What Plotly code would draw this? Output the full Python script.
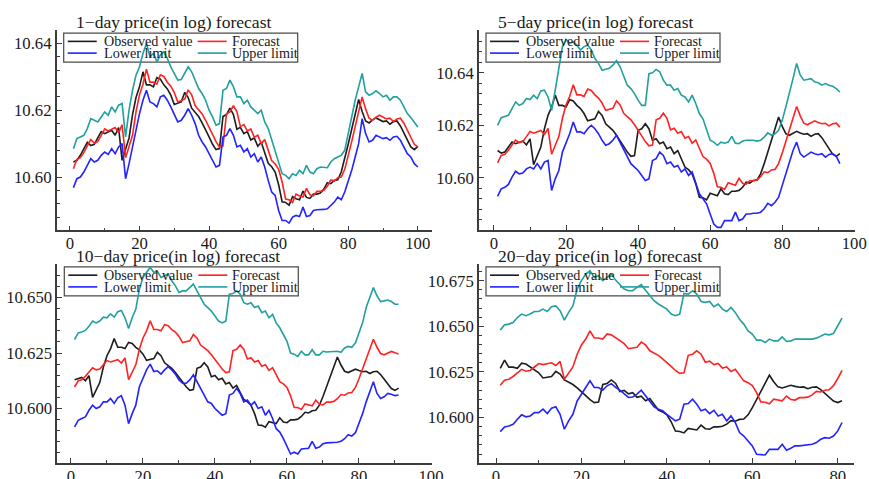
import plotly.graph_objects as go

# reference picture size (all positions below are given in these pixels)
REF_W, REF_H = 869, 479
# the photographed page comes out slightly reduced; size the figure in CSS px to compensate
SCALE = 0.986
W, H = round(REF_W / SCALE), round(REF_H / SCALE)

# ---------------- data ----------------
# observed price (in log), t = 1..100 (shared by all horizons)
observed = [
    10.6045, 10.6050, 10.6065, 10.6085, 10.6104, 10.6094, 10.6098, 10.6117, 10.6136, 10.6130,
    10.6136, 10.6140, 10.6125, 10.6148, 10.6050, 10.6085, 10.6117, 10.6187, 10.6238, 10.6270,
    10.6315, 10.6276, 10.6276, 10.6270, 10.6298, 10.6293, 10.6276, 10.6264, 10.6245, 10.6217,
    10.6222, 10.6225, 10.6253, 10.6238, 10.6206, 10.6194, 10.6181, 10.6162, 10.6143, 10.6120,
    10.6098, 10.6082, 10.6085, 10.6181, 10.6187, 10.6206, 10.6187, 10.6143, 10.6149, 10.6130,
    10.6136, 10.6111, 10.6117, 10.6092, 10.6104, 10.6073, 10.6041, 10.6031, 10.6015, 10.5977,
    10.5926, 10.5924, 10.5916, 10.5941, 10.5935, 10.5932, 10.5958, 10.5939, 10.5936, 10.5949,
    10.5949, 10.5952, 10.5964, 10.5983, 10.5980, 10.5990, 10.5992, 10.6015, 10.6054, 10.6098,
    10.6143, 10.6187, 10.6232, 10.6196, 10.6168, 10.6162, 10.6171, 10.6177, 10.6171, 10.6166,
    10.6168, 10.6158, 10.6166, 10.6168, 10.6153, 10.6132, 10.6110, 10.6090, 10.6082, 10.6092,
]

# 1-day horizon (100 points)
forecast_1d = [
    10.6025, 10.6053, 10.6058, 10.6073, 10.6093, 10.6112, 10.6102, 10.6106, 10.6125, 10.6144,
    10.6138, 10.6144, 10.6148, 10.6133, 10.6156, 10.6058, 10.6093, 10.6125, 10.6195, 10.6246,
    10.6278, 10.6323, 10.6284, 10.6284, 10.6278, 10.6306, 10.6301, 10.6284, 10.6272, 10.6253,
    10.6225, 10.6230, 10.6233, 10.6261, 10.6246, 10.6214, 10.6202, 10.6189, 10.6170, 10.6151,
    10.6128, 10.6106, 10.6090, 10.6093, 10.6189, 10.6195, 10.6214, 10.6195, 10.6151, 10.6157,
    10.6138, 10.6144, 10.6119, 10.6125, 10.6100, 10.6112, 10.6081, 10.6049, 10.6039, 10.6023,
    10.5985, 10.5934, 10.5932, 10.5924, 10.5949, 10.5943, 10.5940, 10.5966, 10.5947, 10.5944,
    10.5957, 10.5957, 10.5960, 10.5972, 10.5991, 10.5988, 10.5998, 10.6000, 10.6023, 10.6062,
    10.6106, 10.6151, 10.6195, 10.6240, 10.6204, 10.6176, 10.6170, 10.6179, 10.6185, 10.6179,
    10.6174, 10.6176, 10.6166, 10.6174, 10.6176, 10.6161, 10.6140, 10.6118, 10.6098, 10.6090,
]
lower_1d = [
    10.5968, 10.5995, 10.6000, 10.6015, 10.6035, 10.6055, 10.6045, 10.6050, 10.6065, 10.6075,
    10.6068, 10.6085, 10.6070, 10.6090, 10.6100, 10.5995, 10.6040, 10.6090, 10.6150, 10.6190,
    10.6230, 10.6260, 10.6225, 10.6220, 10.6210, 10.6240, 10.6245, 10.6230, 10.6210, 10.6185,
    10.6165, 10.6170, 10.6185, 10.6205, 10.6185, 10.6160, 10.6125, 10.6105, 10.6090, 10.6070,
    10.6050, 10.6030, 10.6035, 10.6120, 10.6125, 10.6145, 10.6125, 10.6090, 10.6095, 10.6075,
    10.6085, 10.6060, 10.6070, 10.6045, 10.6060, 10.6030, 10.5990, 10.5955, 10.5945, 10.5900,
    10.5870, 10.5870, 10.5862, 10.5880, 10.5885, 10.5882, 10.5910, 10.5882, 10.5885, 10.5900,
    10.5902, 10.5902, 10.5903, 10.5905, 10.5915, 10.5925, 10.5940, 10.5932, 10.5955, 10.5985,
    10.6020, 10.6060, 10.6100, 10.6175, 10.6130, 10.6105, 10.6110, 10.6125, 10.6120, 10.6115,
    10.6118, 10.6110, 10.6120, 10.6122, 10.6110, 10.6090, 10.6070, 10.6060, 10.6040, 10.6030,
]
upper_1d = [
    10.6085, 10.6115, 10.6120, 10.6125, 10.6145, 10.6175, 10.6170, 10.6165, 10.6180, 10.6195,
    10.6185, 10.6210, 10.6195, 10.6215, 10.6220, 10.6120, 10.6200, 10.6260, 10.6305, 10.6330,
    10.6370, 10.6400, 10.6360, 10.6370, 10.6345, 10.6365, 10.6375, 10.6355, 10.6330, 10.6310,
    10.6290, 10.6292, 10.6310, 10.6330, 10.6315, 10.6290, 10.6265, 10.6250, 10.6230, 10.6200,
    10.6180, 10.6155, 10.6160, 10.6260, 10.6265, 10.6290, 10.6270, 10.6240, 10.6240, 10.6220,
    10.6230, 10.6210, 10.6200, 10.6190, 10.6200, 10.6165, 10.6145, 10.6110, 10.6075, 10.6040,
    10.6010, 10.6005, 10.5995, 10.6010, 10.6005, 10.6020, 10.6010, 10.6035, 10.6015, 10.6010,
    10.6025, 10.6030, 10.6030, 10.6028, 10.6045, 10.6055, 10.6060, 10.6065, 10.6080, 10.6130,
    10.6185, 10.6230, 10.6270, 10.6310, 10.6255, 10.6245, 10.6250, 10.6258, 10.6250, 10.6240,
    10.6245, 10.6230, 10.6240, 10.6240, 10.6230, 10.6210, 10.6190, 10.6178, 10.6165, 10.6150,
]

# 5-day horizon (96 points)
forecast_5d = [
    10.6057, 10.6085, 10.6090, 10.6105, 10.6125, 10.6144, 10.6134, 10.6138, 10.6157, 10.6176,
    10.6170, 10.6176, 10.6180, 10.6165, 10.6188, 10.6090, 10.6125, 10.6157, 10.6227, 10.6278,
    10.6310, 10.6355, 10.6316, 10.6316, 10.6310, 10.6338, 10.6333, 10.6316, 10.6304, 10.6285,
    10.6257, 10.6262, 10.6265, 10.6293, 10.6278, 10.6246, 10.6234, 10.6221, 10.6202, 10.6183,
    10.6160, 10.6138, 10.6122, 10.6125, 10.6221, 10.6227, 10.6246, 10.6227, 10.6183, 10.6189,
    10.6170, 10.6176, 10.6151, 10.6157, 10.6132, 10.6144, 10.6113, 10.6081, 10.6071, 10.6055,
    10.6017, 10.5966, 10.5964, 10.5956, 10.5981, 10.5975, 10.5972, 10.5998, 10.5979, 10.5976,
    10.5989, 10.5989, 10.5992, 10.6004, 10.6023, 10.6020, 10.6030, 10.6032, 10.6055, 10.6094,
    10.6138, 10.6183, 10.6227, 10.6272, 10.6236, 10.6208, 10.6202, 10.6211, 10.6217, 10.6211,
    10.6206, 10.6208, 10.6198, 10.6206, 10.6208, 10.6193,
]
lower_5d = [
    10.5929, 10.5958, 10.5964, 10.5975, 10.6003, 10.6025, 10.6015, 10.6018, 10.6034, 10.6041,
    10.6034, 10.6054, 10.6034, 10.6060, 10.6066, 10.5952, 10.5996, 10.6028, 10.6098, 10.6130,
    10.6168, 10.6213, 10.6175, 10.6175, 10.6168, 10.6187, 10.6200, 10.6187, 10.6168, 10.6143,
    10.6124, 10.6130, 10.6143, 10.6162, 10.6136, 10.6111, 10.6085, 10.6054, 10.6041, 10.6028,
    10.6009, 10.5990, 10.5996, 10.6066, 10.6073, 10.6098, 10.6085, 10.6054, 10.6060, 10.6041,
    10.6047, 10.6022, 10.6034, 10.6009, 10.6022, 10.5983, 10.5939, 10.5920, 10.5901, 10.5862,
    10.5824, 10.5811, 10.5811, 10.5837, 10.5837, 10.5837, 10.5869, 10.5837, 10.5843, 10.5862,
    10.5862, 10.5865, 10.5865, 10.5869, 10.5882, 10.5903, 10.5894, 10.5907, 10.5926, 10.5971,
    10.6009, 10.6054, 10.6104, 10.6136, 10.6092, 10.6079, 10.6089, 10.6098, 10.6092, 10.6088,
    10.6092, 10.6079, 10.6089, 10.6092, 10.6082, 10.6054,
]
upper_5d = [
    10.6200, 10.6229, 10.6234, 10.6238, 10.6264, 10.6289, 10.6276, 10.6283, 10.6302, 10.6298,
    10.6315, 10.6302, 10.6331, 10.6334, 10.6308, 10.6257, 10.6334, 10.6423, 10.6500, 10.6527,
    10.6512, 10.6518, 10.6506, 10.6487, 10.6500, 10.6506, 10.6487, 10.6455, 10.6436, 10.6410,
    10.6413, 10.6417, 10.6429, 10.6446, 10.6423, 10.6391, 10.6353, 10.6340, 10.6321, 10.6296,
    10.6276, 10.6276, 10.6397, 10.6400, 10.6413, 10.6404, 10.6372, 10.6353, 10.6353, 10.6334,
    10.6340, 10.6315, 10.6308, 10.6289, 10.6315, 10.6283, 10.6245, 10.6225, 10.6187, 10.6143,
    10.6136, 10.6124, 10.6136, 10.6132, 10.6136, 10.6158, 10.6132, 10.6130, 10.6140, 10.6143,
    10.6143, 10.6143, 10.6140, 10.6143, 10.6155, 10.6171, 10.6162, 10.6168, 10.6181, 10.6219,
    10.6270, 10.6321, 10.6378, 10.6436, 10.6391, 10.6372, 10.6375, 10.6378, 10.6366, 10.6362,
    10.6353, 10.6359, 10.6353, 10.6349, 10.6340, 10.6327,
]

# 10-day horizon (91 points)
forecast_10d = [
    10.6097, 10.6125, 10.6130, 10.6145, 10.6165, 10.6184, 10.6174, 10.6178, 10.6197, 10.6216,
    10.6210, 10.6216, 10.6220, 10.6205, 10.6228, 10.6130, 10.6165, 10.6197, 10.6267, 10.6318,
    10.6350, 10.6395, 10.6356, 10.6356, 10.6350, 10.6378, 10.6373, 10.6356, 10.6344, 10.6325,
    10.6297, 10.6302, 10.6305, 10.6333, 10.6318, 10.6286, 10.6274, 10.6261, 10.6242, 10.6223,
    10.6200, 10.6178, 10.6162, 10.6165, 10.6261, 10.6267, 10.6286, 10.6267, 10.6223, 10.6229,
    10.6210, 10.6216, 10.6191, 10.6197, 10.6172, 10.6184, 10.6153, 10.6121, 10.6111, 10.6095,
    10.6057, 10.6006, 10.6004, 10.5996, 10.6021, 10.6015, 10.6012, 10.6038, 10.6019, 10.6016,
    10.6029, 10.6029, 10.6032, 10.6044, 10.6063, 10.6060, 10.6070, 10.6072, 10.6095, 10.6134,
    10.6178, 10.6223, 10.6267, 10.6312, 10.6276, 10.6248, 10.6242, 10.6251, 10.6257, 10.6251,
    10.6246,
]
lower_10d = [
    10.5917, 10.5947, 10.5955, 10.5962, 10.5992, 10.6015, 10.6000, 10.6008, 10.6030, 10.6030,
    10.6045, 10.6023, 10.6048, 10.6058, 10.6015, 10.5932, 10.5977, 10.6015, 10.6098, 10.6136,
    10.6174, 10.6200, 10.6167, 10.6170, 10.6155, 10.6174, 10.6189, 10.6174, 10.6155, 10.6129,
    10.6114, 10.6114, 10.6129, 10.6152, 10.6121, 10.6091, 10.6061, 10.6030, 10.6023, 10.6000,
    10.5985, 10.5970, 10.5977, 10.6061, 10.6068, 10.6091, 10.6068, 10.6030, 10.6038, 10.6015,
    10.6030, 10.6000, 10.6008, 10.5970, 10.5992, 10.5955, 10.5909, 10.5894, 10.5864, 10.5826,
    10.5795, 10.5803, 10.5795, 10.5818, 10.5818, 10.5821, 10.5852, 10.5821, 10.5826, 10.5841,
    10.5845, 10.5845, 10.5848, 10.5848, 10.5852, 10.5864, 10.5882, 10.5876, 10.5891, 10.5932,
    10.5977, 10.6030, 10.6076, 10.6121, 10.6068, 10.6045, 10.6053, 10.6068, 10.6064, 10.6058,
    10.6061,
]
upper_10d = [
    10.6311, 10.6341, 10.6345, 10.6352, 10.6371, 10.6394, 10.6386, 10.6394, 10.6412, 10.6409,
    10.6427, 10.6412, 10.6436, 10.6442, 10.6409, 10.6361, 10.6409, 10.6447, 10.6538, 10.6591,
    10.6614, 10.6636, 10.6614, 10.6618, 10.6591, 10.6598, 10.6606, 10.6576, 10.6553, 10.6523,
    10.6530, 10.6530, 10.6545, 10.6561, 10.6530, 10.6500, 10.6470, 10.6455, 10.6439, 10.6417,
    10.6394, 10.6386, 10.6394, 10.6515, 10.6518, 10.6530, 10.6515, 10.6477, 10.6470, 10.6477,
    10.6455, 10.6462, 10.6432, 10.6439, 10.6409, 10.6424, 10.6386, 10.6364, 10.6333, 10.6303,
    10.6250, 10.6245, 10.6235, 10.6258, 10.6242, 10.6242, 10.6265, 10.6242, 10.6242, 10.6258,
    10.6255, 10.6255, 10.6258, 10.6258, 10.6253, 10.6273, 10.6280, 10.6276, 10.6295, 10.6341,
    10.6386, 10.6455, 10.6500, 10.6545, 10.6508, 10.6482, 10.6485, 10.6489, 10.6482, 10.6470,
    10.6470,
]

# 20-day horizon (81 points)
forecast_20d = [
    10.6177, 10.6205, 10.6210, 10.6225, 10.6245, 10.6264, 10.6254, 10.6258, 10.6277, 10.6296,
    10.6290, 10.6296, 10.6300, 10.6285, 10.6308, 10.6210, 10.6245, 10.6277, 10.6347, 10.6398,
    10.6430, 10.6475, 10.6436, 10.6436, 10.6430, 10.6458, 10.6453, 10.6436, 10.6424, 10.6405,
    10.6377, 10.6382, 10.6385, 10.6413, 10.6398, 10.6366, 10.6354, 10.6341, 10.6322, 10.6303,
    10.6280, 10.6258, 10.6242, 10.6245, 10.6341, 10.6347, 10.6366, 10.6347, 10.6303, 10.6309,
    10.6290, 10.6296, 10.6271, 10.6277, 10.6252, 10.6264, 10.6233, 10.6201, 10.6191, 10.6175,
    10.6137, 10.6086, 10.6084, 10.6076, 10.6101, 10.6095, 10.6092, 10.6118, 10.6099, 10.6096,
    10.6109, 10.6109, 10.6112, 10.6124, 10.6143, 10.6140, 10.6150, 10.6152, 10.6175, 10.6214,
    10.6258,
]
lower_20d = [
    10.5923, 10.5949, 10.5954, 10.5963, 10.5991, 10.6015, 10.6004, 10.6009, 10.6027, 10.6027,
    10.6046, 10.6022, 10.6051, 10.6059, 10.6018, 10.5936, 10.5982, 10.6018, 10.6091, 10.6128,
    10.6165, 10.6201, 10.6165, 10.6165, 10.6150, 10.6174, 10.6186, 10.6165, 10.6150, 10.6128,
    10.6110, 10.6113, 10.6128, 10.6150, 10.6119, 10.6091, 10.6059, 10.6046, 10.6037, 10.6018,
    10.6000, 10.5982, 10.5991, 10.6073, 10.6077, 10.6101, 10.6073, 10.6037, 10.6046, 10.6022,
    10.6040, 10.6009, 10.6018, 10.5982, 10.6009, 10.5973, 10.5918, 10.5899, 10.5872, 10.5845,
    10.5799, 10.5799, 10.5795, 10.5826, 10.5826, 10.5826, 10.5854, 10.5821, 10.5832, 10.5845,
    10.5845, 10.5848, 10.5850, 10.5854, 10.5863, 10.5881, 10.5890, 10.5887, 10.5899, 10.5927,
    10.5973,
]
upper_20d = [
    10.6479, 10.6508, 10.6512, 10.6521, 10.6548, 10.6567, 10.6558, 10.6567, 10.6581, 10.6581,
    10.6594, 10.6581, 10.6607, 10.6612, 10.6585, 10.6534, 10.6576, 10.6612, 10.6704, 10.6750,
    10.6786, 10.6804, 10.6768, 10.6777, 10.6750, 10.6768, 10.6786, 10.6753, 10.6731, 10.6704,
    10.6695, 10.6695, 10.6713, 10.6728, 10.6698, 10.6667, 10.6640, 10.6622, 10.6607, 10.6594,
    10.6567, 10.6558, 10.6567, 10.6680, 10.6676, 10.6695, 10.6676, 10.6636, 10.6631, 10.6636,
    10.6607, 10.6622, 10.6594, 10.6581, 10.6603, 10.6576, 10.6539, 10.6512, 10.6475, 10.6457,
    10.6424, 10.6424, 10.6411, 10.6430, 10.6420, 10.6420, 10.6442, 10.6417, 10.6420, 10.6430,
    10.6430, 10.6430, 10.6428, 10.6430, 10.6435, 10.6448, 10.6457, 10.6453, 10.6461, 10.6503,
    10.6545,
]

series_names = ["Observed value", "Forecast", "Lower limit", "Upper limit"]
series_colors = ["#1e1e1e", "#ff2424", "#2424ff", "#23a0a0"]
panel_titles = [
    "1\u2212day price(in log) forecast",
    "5\u2212day price(in log) forecast",
    "10\u2212day price(in log) forecast",
    "20\u2212day price(in log) forecast",
]
# number of observed points dropped at the start for each horizon panel
obs_offsets = [0, 4, 9, 19]

# ---------------- layout settings ----------------
FONT = "Liberation Serif"
AXIS_COLOR = "#3c3c3c"
S = 1 / SCALE  # size multiplier for fonts / strokes

# px = (left, right, top, bottom) of each plot area, in reference pixels
panels = [
    dict(series=[forecast_1d, lower_1d, upper_1d], px=(56.7, 431.7, 30.0, 230.0),
         xr=[-3.8, 104.0], yr=[10.584, 10.644], ytick0=10.60, ydt=0.02, yminor=0.004, yfmt=".2f"),
    dict(series=[forecast_5d, lower_5d, upper_5d], px=(479.0, 855.0, 30.0, 229.3),
         xr=[-4.16, 100.2], yr=[10.5802, 10.6563], ytick0=10.60, ydt=0.02, yminor=0.004, yfmt=".2f"),
    dict(series=[forecast_10d, lower_10d, upper_10d], px=(57.3, 431.7, 263.3, 461.7),
         xr=[-3.8, 100.2], yr=[10.5756, 10.6652], ytick0=10.60, ydt=0.025, yminor=0.005, yfmt=".3f"),
    dict(series=[forecast_20d, lower_20d, upper_20d], px=(479.0, 854.0, 263.3, 461.7),
         xr=[-3.98, 83.8], yr=[10.5753, 10.6842], ytick0=10.60, ydt=0.025, yminor=0.005, yfmt=".3f"),
]


def px_x(v):
    return v / REF_W


def px_y(v):
    return 1 - v / REF_H


fig = go.Figure()
layout = dict(
    width=W, height=H,
    margin=dict(l=0, r=0, t=0, b=0),
    paper_bgcolor="white", plot_bgcolor="white",
    showlegend=False,
    font=dict(family=FONT, color="#1a1a1a"),
)
shapes = []
annotations = []

for k, p in enumerate(panels):
    n = len(p["series"][0])
    xs = list(range(1, n + 1))
    off = obs_offsets[k]
    obs = observed[off:off + n]
    ys_all = [obs] + p["series"]
    xa = "x" if k == 0 else f"x{k + 1}"
    ya = "y" if k == 0 else f"y{k + 1}"
    for j, ys in enumerate(ys_all):
        fig.add_trace(go.Scatter(
            x=xs, y=ys, mode="lines", name=series_names[j],
            line=dict(color=series_colors[j], width=1.6 * S),
            xaxis=xa, yaxis=ya, showlegend=False,
        ))

    x0p, x1p, y0p, y1p = p["px"]
    axkey_x = "xaxis" if k == 0 else f"xaxis{k + 1}"
    axkey_y = "yaxis" if k == 0 else f"yaxis{k + 1}"
    common = dict(
        showline=True, linecolor=AXIS_COLOR, linewidth=1.6 * S,
        ticks="inside", ticklen=5 * S, tickwidth=1.3 * S, tickcolor=AXIS_COLOR,
        showgrid=False, zeroline=False,
        tickfont=dict(family=FONT, size=16.5 * S, color="#1a1a1a"),
    )
    layout[axkey_x] = dict(
        common, domain=[px_x(x0p), px_x(x1p)], range=p["xr"], anchor=ya,
        tick0=0, dtick=20, ticklabelstandoff=-3,
        minor=dict(dtick=10, ticks="inside", ticklen=3 * S, tickwidth=1.1 * S, tickcolor=AXIS_COLOR),
    )
    layout[axkey_y] = dict(
        common, domain=[px_y(y1p), px_y(y0p)], range=p["yr"], anchor=xa,
        tick0=p["ytick0"], dtick=p["ydt"], tickformat=p["yfmt"],
        minor=dict(dtick=p["yminor"], ticks="inside", ticklen=3 * S, tickwidth=1.1 * S,
                   tickcolor=AXIS_COLOR),
    )

    # panel title
    annotations.append(dict(
        xref="paper", yref="paper", x=px_x(x0p + 17), y=px_y(y0p - 8),
        xanchor="left", yanchor="middle", showarrow=False,
        text=panel_titles[k], font=dict(family=FONT, size=17.3 * S, color="#1a1a1a"),
    ))

    # legend box (drawn below the data lines, as in the original)
    bx0, bx1 = x0p + 7, x0p + 241
    by0, by1 = y0p + 3, y0p + 32
    shapes.append(dict(
        type="rect", xref="paper", yref="paper", layer="below",
        x0=px_x(bx0), x1=px_x(bx1), y0=px_y(by1), y1=px_y(by0),
        line=dict(color="#4a4a4a", width=1.2 * S), fillcolor="white",
    ))
    rows = [y0p + 11.3, y0p + 23.0]
    cols = [(x0p + 11, x0p + 40, x0p + 45), (x0p + 141, x0p + 170, x0p + 173)]
    for j in range(4):
        r, c = divmod(j, 2)
        lx0, lx1, tx = cols[c]
        yy = rows[r]
        shapes.append(dict(
            type="line", xref="paper", yref="paper", layer="below",
            x0=px_x(lx0), x1=px_x(lx1), y0=px_y(yy), y1=px_y(yy),
            line=dict(color=series_colors[j], width=1.6 * S),
        ))
        annotations.append(dict(
            xref="paper", yref="paper", x=px_x(tx), y=px_y(yy),
            xanchor="left", yanchor="middle", showarrow=False,
            text=series_names[j], font=dict(family=FONT, size=14 * S, color="#1a1a1a"),
        ))

layout["shapes"] = shapes
layout["annotations"] = annotations
fig.update_layout(**layout)

# remove the browser's default page margin so the figure starts at the window corner
fig.write_html(
    "out.html",
    config={"displayModeBar": False},
    post_script="document.body.style.margin='0';document.body.style.overflow='hidden';",
)
